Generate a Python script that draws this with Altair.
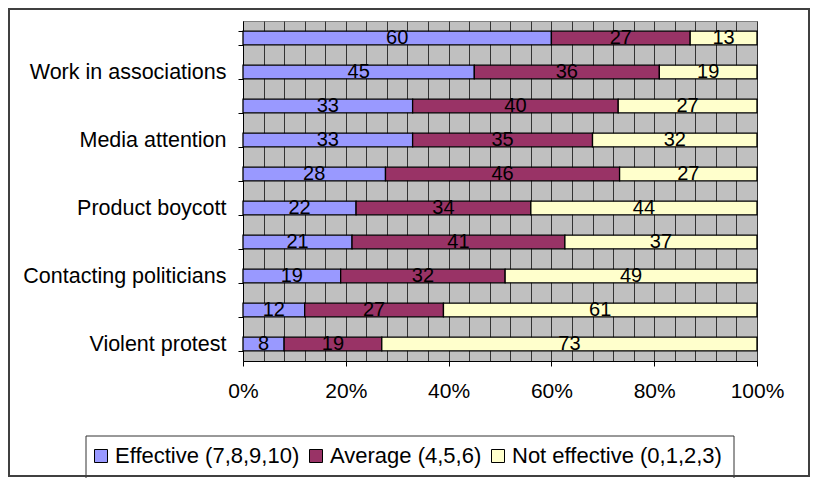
import json
import altair as alt
import pandas as pd

categories = ["", "Work in associations", "", "Media attention", "",
              "Product boycott", "", "Contacting politicians", "", "Violent protest"]
series = ["Effective (7,8,9,10)", "Average (4,5,6)", "Not effective (0,1,2,3)"]
effective = [60, 45, 33, 33, 28, 22, 21, 19, 12, 8]
average = [27, 36, 40, 35, 46, 34, 41, 32, 27, 19]
not_effective = [13, 19, 27, 32, 27, 44, 37, 49, 61, 73]
colors = ["#9999FF", "#993366", "#FFFFCC"]
x_label_values = [0, 0.2, 0.4, 0.6, 0.8, 1.0]
grid_values = [i / 25 for i in range(26)]

rows = []
for i in range(len(categories)):
    for k, vals in enumerate([effective, average, not_effective]):
        rows.append({"row": i, "series": series[k], "order": k, "value": vals[i]})
df = pd.DataFrame(rows)

FONT = "Liberation Sans"
label_expr = json.dumps(categories) + "[datum.value]"

y_enc = alt.Y("row:O", title=None,
              scale=alt.Scale(paddingInner=0.6, paddingOuter=0.3),
              axis=alt.Axis(labelExpr=label_expr, tickBand="extent", tickSize=5,
                            tickColor="black", domainColor="black", labelColor="black",
                            labelFont=FONT, labelFontSize=21.5, labelPadding=12,
                            grid=False, labelLimit=400))

base = alt.Chart(df).transform_stack(
    stack="value", groupby=["row"], sort=[alt.SortField("order")],
    as_=["x0", "x1"], offset="normalize"
).transform_calculate(mid="(datum.x0 + datum.x1) / 2")

xscale = alt.Scale(domain=[0, 1], nice=False)

bars = base.mark_bar(stroke="black", strokeWidth=1.3).encode(
    x=alt.X("x0:Q", scale=xscale, title=None,
            axis=alt.Axis(values=grid_values, grid=True, gridColor="#333333",
                          gridOpacity=1, gridWidth=1, ticks=False, labels=False,
                          domain=False, orient="bottom")),
    x2="x1:Q",
    y=y_enc,
    fill=alt.Fill("series:N", scale=alt.Scale(domain=series, range=colors),
                  legend=alt.Legend(title=None, orient="none", direction="horizontal",
                                    legendX=-153, legendY=424, symbolType="square",
                                    symbolSize=169, symbolStrokeColor="black",
                                    symbolStrokeWidth=1, symbolOpacity=1,
                                    labelFont=FONT, labelFontSize=22, labelColor="black",
                                    labelOffset=3, columnPadding=5, padding=0,
                                    labelLimit=400)),
)

labels = base.mark_text(font=FONT, fontSize=20, color="black", baseline="middle",
                        align="center").encode(
    x=alt.X("mid:Q", scale=xscale, title=None,
            axis=alt.Axis(values=x_label_values, format="%", grid=False, tickSize=5,
                          tickColor="black", domainColor="black", labelColor="black",
                          labelFont=FONT, labelFontSize=21, labelPadding=14,
                          orient="bottom", labelFlush=False)),
    y=y_enc,
    text=alt.Text("value:Q"),
)

deco = alt.Data(values=[{"a": 1}])

frame = alt.Chart(deco).mark_rect(
    fillOpacity=0, stroke="#404040", strokeWidth=2
).encode(x=alt.value(-234), x2=alt.value(566), y=alt.value(-12), y2=alt.value(455))

legend_box = alt.Chart(deco).mark_rect(
    fill="white", stroke="#333333", strokeWidth=1
).encode(x=alt.value(-157), x2=alt.value(491), y=alt.value(415), y2=alt.value(458))

chart = alt.layer(legend_box, bars, labels, frame).resolve_axis(x="independent").properties(
    width=514, height=340,
    autosize=alt.AutoSizeParams(type="none"),
    padding={"left": 235, "top": 13, "right": 54, "bottom": 117},
    background="white",
).configure_view(fill="#C0C0C0", stroke="#808080", strokeWidth=1)

chart.save("out.html", embed_options={"renderer": "svg", "actions": False})
